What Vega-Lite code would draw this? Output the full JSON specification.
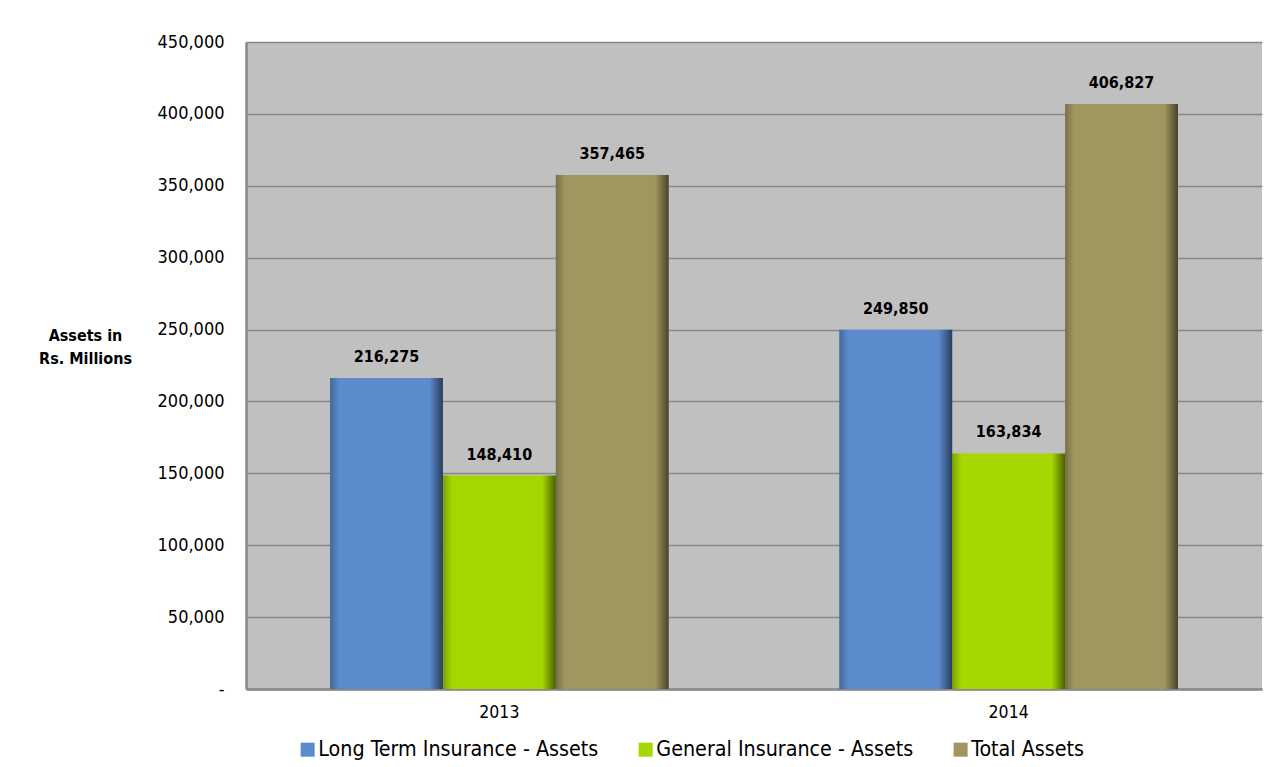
{
  "$schema": "https://vega.github.io/schema/vega-lite/v6.json",
  "width": 1016,
  "height": 647,
  "autosize": {"type": "none"},
  "padding": {"left": 246, "top": 42, "right": 11, "bottom": 78},
  "background": "#ffffff",
  "config": {
    "font": "DejaVu Sans Condensed, DejaVu Sans",
    "view": {"fill": "#C0C0C0", "stroke": null}
  },
  "data": {
    "values": [
      {"year": "2013", "series": "Long Term Insurance - Assets", "value": 216275},
      {"year": "2013", "series": "General Insurance - Assets", "value": 148410},
      {"year": "2013", "series": "Total Assets", "value": 357465},
      {"year": "2014", "series": "Long Term Insurance - Assets", "value": 249850},
      {"year": "2014", "series": "General Insurance - Assets", "value": 163834},
      {"year": "2014", "series": "Total Assets", "value": 406827}
    ]
  },
  "encoding": {
    "x": {
      "field": "year",
      "type": "nominal",
      "scale": {"paddingInner": 0.335, "paddingOuter": 0.165},
      "axis": {
        "title": null,
        "labelAngle": 0,
        "ticks": false,
        "labelPadding": 14,
        "labelFontSize": 17.5,
        "labelColor": "#000000",
        "domainColor": "#878787",
        "domainWidth": 2.5,
        "grid": false
      }
    },
    "xOffset": {
      "field": "series",
      "type": "nominal",
      "sort": ["Long Term Insurance - Assets", "General Insurance - Assets", "Total Assets"],
      "scale": {"paddingInner": 0, "paddingOuter": 0}
    },
    "y": {
      "field": "value",
      "type": "quantitative",
      "scale": {"domain": [0, 450000], "nice": false},
      "axis": {
        "title": ["Assets in", "Rs. Millions"],
        "titleAngle": 0,
        "titleFontSize": 16,
        "titleFontWeight": "bold",
        "titleColor": "#000000",
        "titleAlign": "center",
        "titleBaseline": "top",
        "titleX": -161,
        "titleY": 285,
        "titleLineHeight": 23,
        "values": [0, 50000, 100000, 150000, 200000, 250000, 300000, 350000, 400000, 450000],
        "labelExpr": "datum.value == 0 ? '-\u00a0\u00a0\u00a0' : format(datum.value, ',')",
        "labelFontSize": 18,
        "labelColor": "#000000",
        "labelPadding": 22,
        "ticks": false,
        "domainColor": "#878787",
        "domainWidth": 2.5,
        "gridColor": "#878787",
        "gridWidth": 1.5
      }
    }
  },
  "layer": [
    {
      "mark": {"type": "bar"},
      "encoding": {
        "color": {
          "field": "series",
          "type": "nominal",
          "sort": ["Long Term Insurance - Assets", "General Insurance - Assets", "Total Assets"],
          "scale": {
            "domain": ["Long Term Insurance - Assets", "General Insurance - Assets", "Total Assets"],
            "range": ["#5B8ACD", "#A5D700", "#A09660"]
          },
          "legend": {
            "title": null,
            "orient": "none",
            "legendX": 51,
            "legendY": 697,
            "direction": "horizontal",
            "columns": 3,
            "columnPadding": 36,
            "padding": 0,
            "symbolType": "square",
            "symbolSize": 196,
            "symbolStrokeWidth": 0,
            "symbolOpacity": 1,
            "labelOffset": 0,
            "labelFontSize": 21.3,
            "labelColor": "#000000",
            "labelLimit": 400
          }
        }
      }
    },
    {
      "mark": {
        "type": "bar",
        "color": {
          "gradient": "linear",
          "x1": 0, "x2": 1, "y1": 0, "y2": 0,
          "stops": [
            {"offset": 0, "color": "rgba(0,0,0,0.25)"},
            {"offset": 0.08, "color": "rgba(0,0,0,0)"},
            {"offset": 0.88, "color": "rgba(0,0,0,0)"},
            {"offset": 1, "color": "rgba(0,0,0,0.55)"}
          ]
        }
      }
    },
    {
      "mark": {
        "type": "text",
        "baseline": "middle",
        "align": "center",
        "dy": -21,
        "fontSize": 16,
        "fontWeight": "bold",
        "color": "#000000"
      },
      "encoding": {
        "text": {"field": "value", "type": "quantitative", "format": ","}
      }
    }
  ]
}
